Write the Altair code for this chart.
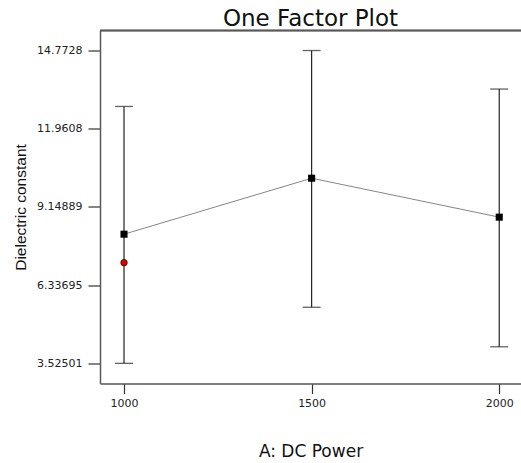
import altair as alt
import pandas as pd

# ---- data ----
levels = [1000, 1500, 2000]
means = [8.167, 10.18, 8.78]
lower = [3.525, 5.54, 4.12]
upper = [12.76, 14.77, 13.385]
obs_x = [1000]
obs_y = [7.145]
y_tick_values = [3.52501, 6.33695, 9.14889, 11.9608, 14.7728]
y_tick_labels = ["3.52501", "6.33695", "9.14889", "11.9608", "14.7728"]
x_tick_values = [1000, 1500, 2000]

df = pd.DataFrame({"power": levels, "mean": means, "lo": lower, "hi": upper})
obs = pd.DataFrame({"power": obs_x, "val": obs_y})

W, H = 421, 353
xdom = [936, 2058]
ydom = [2.80, 15.49]

# label expression built from the tick lists
expr = ""
for i, (v, lab) in enumerate(zip(y_tick_values, y_tick_labels)):
    if i < len(y_tick_values) - 1:
        nxt = y_tick_values[i + 1]
        expr += f"datum.value < {(v + nxt) / 2} ? '{lab}' : "
    else:
        expr += f"'{lab}'"

FONT = "DejaVu Sans"
AXC = "#5a5a5a"

xs = alt.Scale(domain=xdom, nice=False, zero=False)
ys = alt.Scale(domain=ydom, nice=False, zero=False)

x_axis = alt.Axis(
    title="A: DC Power", values=x_tick_values, format="d", grid=False,
    domainColor=AXC, domainWidth=1.5, tickColor="#333", tickSize=10, tickWidth=1.2,
    labelFont=FONT, labelFontSize=11, labelColor="#222", labelPadding=4,
    titleFont=FONT, titleFontSize=17, titleFontWeight="normal", titleColor="#111",
    titleBaseline="alphabetic", titleY=73,
)
y_axis = alt.Axis(
    title="Dielectric constant", values=y_tick_values, labelExpr=expr, grid=False,
    domainColor=AXC, domainWidth=1.5, tickColor="#333", tickSize=12, tickWidth=1.2,
    labelFont=FONT, labelFontSize=11, labelColor="#222", labelPadding=6,
    titleFont="Liberation Sans", titleFontSize=15.5, titleFontWeight="normal", titleColor="#111",
    titleBaseline="alphabetic", titleX=-75, titleY=H / 2, titleAngle=-90,
)

base = alt.Chart(df)

bars = base.mark_rule(color="#222", strokeWidth=1.2).encode(
    x=alt.X("power:Q", scale=xs, axis=x_axis),
    y=alt.Y("lo:Q", scale=ys, axis=y_axis),
    y2="hi:Q",
)
caps_lo = base.mark_tick(color="#222", size=18, thickness=1.3, orient="horizontal").encode(
    x=alt.X("power:Q", scale=xs), y=alt.Y("lo:Q", scale=ys)
)
caps_hi = base.mark_tick(color="#222", size=18, thickness=1.3, orient="horizontal").encode(
    x=alt.X("power:Q", scale=xs), y=alt.Y("hi:Q", scale=ys)
)
line = base.mark_line(color="#777", strokeWidth=0.9).encode(
    x=alt.X("power:Q", scale=xs), y=alt.Y("mean:Q", scale=ys)
)
pts = base.mark_point(shape="square", filled=True, color="black", size=50, opacity=1).encode(
    x=alt.X("power:Q", scale=xs), y=alt.Y("mean:Q", scale=ys)
)
red = alt.Chart(obs).mark_point(shape="circle", filled=True, fill="#e00000", stroke="#300",
                                strokeWidth=0.8, size=42, opacity=1).encode(
    x=alt.X("power:Q", scale=xs), y=alt.Y("val:Q", scale=ys)
)
top_border = alt.Chart(df).mark_rule(color=AXC, strokeWidth=1.5).encode(
    x=alt.value(0), x2=alt.value(W), y=alt.value(0)
)

chart = alt.layer(top_border, bars, caps_lo, caps_hi, line, pts, red).properties(
    width=W, height=H,
    title=alt.TitleParams("One Factor Plot", font=FONT, fontSize=23, fontWeight="normal",
                          color="#111", anchor="middle", frame="group",
                          baseline="alphabetic", offset=5, dy=24),
    autosize=alt.AutoSizeParams(type="none"),
    padding={"left": 100, "top": 30.5, "right": 0, "bottom": 79},
).configure_view(stroke=None).configure(background="white")

chart.save("out.html", embed_options={"renderer": "svg", "actions": False})
